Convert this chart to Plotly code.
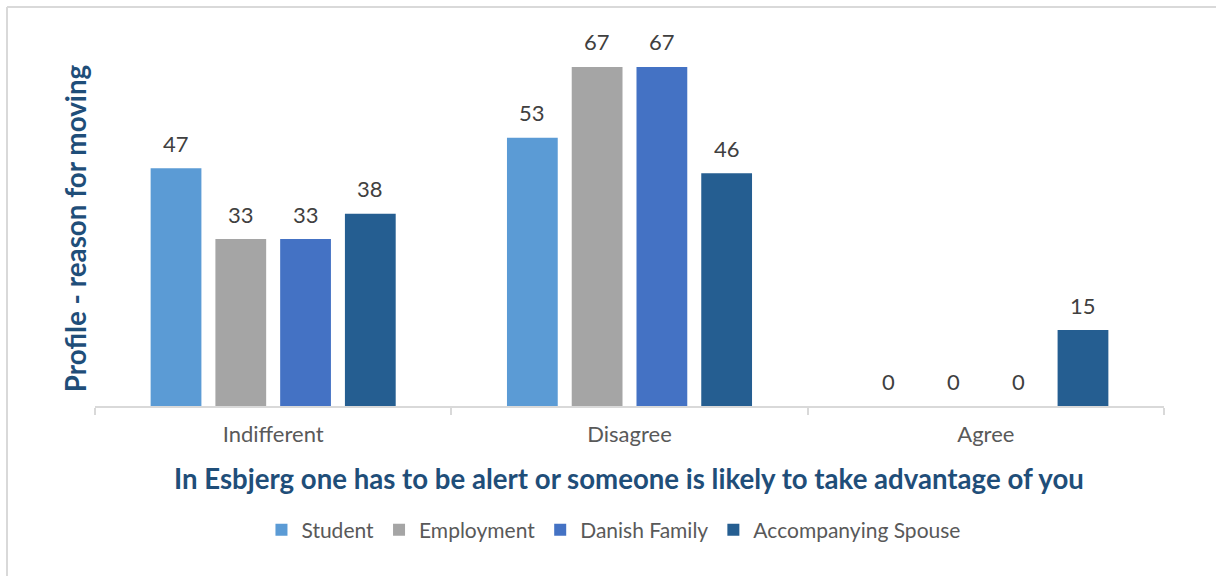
import plotly.graph_objects as go

categories = ["Indifferent", "Disagree", "Agree"]
series_names = ["Student", "Employment", "Danish Family", "Accompanying Spouse"]
student = [47, 53, 0]
employment = [33, 67, 0]
danish_family = [33, 67, 0]
accompanying_spouse = [38, 46, 15]

values = [student, employment, danish_family, accompanying_spouse]
colors = ["#5B9BD5", "#A5A5A5", "#4472C4", "#255E91"]

FONT = "Lato"
TITLE_COLOR = "#1F4E79"
TEXT_COLOR = "#595959"

fig = go.Figure()
for name, vals, col in zip(series_names, values, colors):
    fig.add_trace(go.Bar(
        x=categories, y=vals, name=name,
        marker=dict(color=col, line=dict(width=0)),
    ))

# value labels above each bar of the group
slot_px = 64.75
offsets = [-1.5, -0.5, 0.5, 1.5]
annotations = []
for vals, off in zip(values, offsets):
    for cat, v in zip(categories, vals):
        annotations.append(dict(
            x=cat, y=v, xref="x", yref="y", text=str(v), showarrow=False,
            xshift=off * slot_px, yshift=25, yanchor="middle",
            font=dict(family=FONT, size=22, color="#404040"),
        ))

# axis titles
annotations.append(dict(
    x=0.4995, y=-0.1915, xref="paper", yref="paper", showarrow=False,
    text="<b>In Esbjerg one has to be alert or someone is likely to take advantage of you</b>",
    xanchor="center", yanchor="middle",
    font=dict(family=FONT, size=27.6, color=TITLE_COLOR),
))
annotations.append(dict(
    x=-0.0187, y=0.473, xref="paper", yref="paper", showarrow=False,
    text="<b>Profile - reason for moving</b>", textangle=-90,
    xanchor="center", yanchor="middle",
    font=dict(family=FONT, size=27.8, color=TITLE_COLOR),
))

fig.update_layout(
    width=1216, height=576,
    margin=dict(l=95, r=52, t=30, b=170),
    paper_bgcolor="white", plot_bgcolor="white",
    barmode="group", bargap=0.273, bargroupgap=0.216,
    font=dict(family=FONT, size=22, color=TEXT_COLOR),
    showlegend=True,
    legend=dict(
        orientation="h", x=0.485, y=-0.33, xanchor="center", yanchor="middle",
        font=dict(family=FONT, size=21, color=TEXT_COLOR),
        itemwidth=30, tracegroupgap=0,
    ),
    xaxis=dict(
        showline=True, linecolor="#D9D9D9", linewidth=1.5,
        ticks="outside", tickson="boundaries", ticklen=7, tickcolor="#D9D9D9",
        tickwidth=1.5, ticklabelstandoff=8,
        tickfont=dict(family=FONT, size=22, color=TEXT_COLOR),
        showgrid=False, zeroline=False,
    ),
    yaxis=dict(
        range=[0, 74.3], visible=False, showgrid=False, zeroline=False,
    ),
    annotations=annotations,
    shapes=[
        # chart frame
        dict(type="line", xref="paper", yref="paper",
             x0=-0.0823, x1=1.2, y0=1.0612, y1=1.0612,
             line=dict(color="#D9D9D9", width=2)),
        dict(type="line", xref="paper", yref="paper",
             x0=-0.0823, x1=-0.0823, y0=1.0612, y1=-0.6,
             line=dict(color="#D9D9D9", width=2)),
    ],
)

fig.write_html("out.html")
